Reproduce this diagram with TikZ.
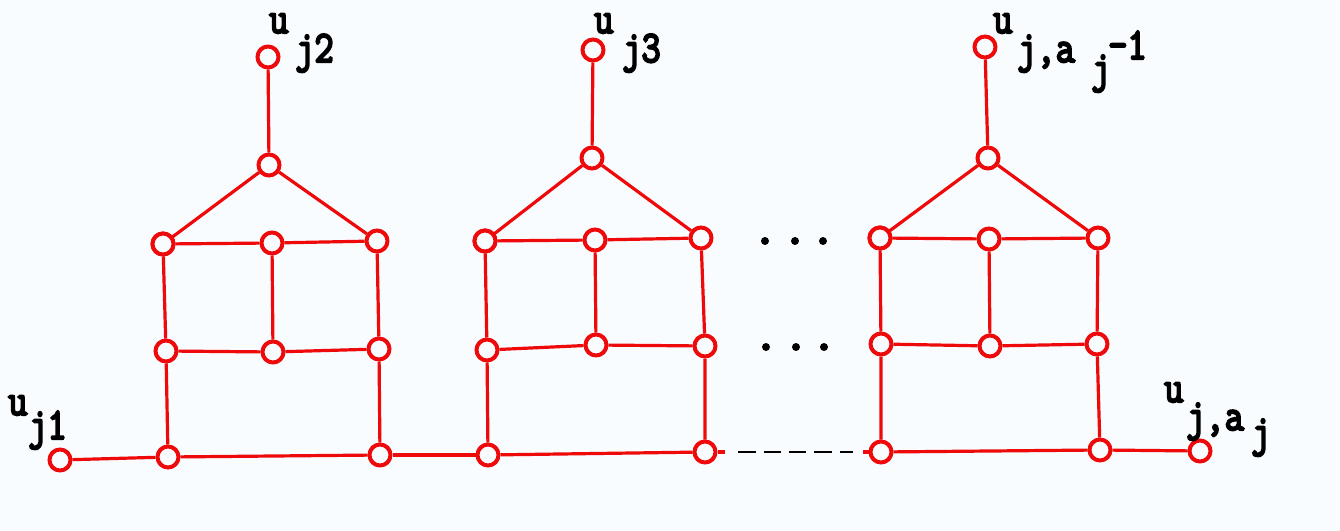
\documentclass[tikz,border=0pt]{standalone}
\usepackage{fontspec}
\newfontfamily\labfont{Latin Modern Mono}[FakeBold=5]
\usetikzlibrary{calc}
\definecolor{bg}{RGB}{249,252,254}
\definecolor{ink}{RGB}{238,10,10}
\newcommand{\lbl}[1]{\scalebox{1}[1.2]{#1}}
\begin{document}
\begin{tikzpicture}[x=0.75pt,y=-0.75pt,
  v/.style={circle,draw=ink,line width=3pt,fill=bg,minimum size=15.75pt,inner sep=0pt},
  edge/.style={draw=ink,line width=2.4pt},
  lab/.style={font=\fontsize{28}{30}\selectfont\labfont,inner sep=0pt,anchor=base west,text=black},
  dot/.style={circle,fill=black,inner sep=0pt,minimum size=6pt}]
\fill[bg] (0,0) rectangle (1340,531);
\useasboundingbox (0,0) rectangle (1340,531);
% house 1
\node[v] (t1) at (268,57) {};
\node[v] (a1) at (269,165) {};
\node[v] (p1) at (163,244) {};
\node[v] (q1) at (272,243) {};
\node[v] (r1) at (377,241) {};
\node[v] (s1) at (166,351) {};
\node[v] (m1) at (273,352) {};
\node[v] (w1) at (379,349) {};
\node[v] (b1) at (168,457) {};
\node[v] (c1) at (380,455) {};
% house 2
\node[v] (t2) at (593,50) {};
\node[v] (a2) at (592,158) {};
\node[v] (p2) at (485,241) {};
\node[v] (q2) at (595,240) {};
\node[v] (r2) at (701,238) {};
\node[v] (s2) at (487,350) {};
\node[v] (m2) at (596,345) {};
\node[v] (w2) at (705,346) {};
\node[v] (b2) at (488,455) {};
\node[v] (c2) at (705,452) {};
% house 3
\node[v] (t3) at (985,47) {};
\node[v] (a3) at (988,158) {};
\node[v] (p3) at (880,238) {};
\node[v] (q3) at (989,239) {};
\node[v] (r3) at (1098,238) {};
\node[v] (s3) at (881,344) {};
\node[v] (m3) at (990,346) {};
\node[v] (w3) at (1097,344) {};
\node[v] (b3) at (881,452) {};
\node[v] (c3) at (1100,450) {};
% ends
\node[v] (e0) at (60,460) {};
\node[v] (e1) at (1200,451) {};
\foreach \i in {1,2,3}{
  \draw[edge] (t\i) -- (a\i);
  \draw[edge] (a\i) -- (p\i.center);
  \draw[edge] (a\i) -- (r\i);
  \draw[edge] (p\i) -- (q\i) -- (r\i);
  \draw[edge] (s\i) -- (m\i) -- (w\i);
  \draw[edge] (p\i) -- (s\i) -- (b\i);
  \draw[edge] (q\i) -- (m\i);
  \draw[edge] (r\i) -- (w\i) -- (c\i);
  \draw[edge] (b\i) -- (c\i);
}
\node[v] at (p1) {};
\node[v] at (p2) {};
\node[v] at (p3) {};
\draw[edge] (e0) -- (b1);
\draw[edge] (c1) -- (b2);
\draw[edge] (c3) -- (e1);
\coordinate (d0) at ($(c2)!0.115!(b3)$);
\coordinate (d1) at ($(c2)!0.9!(b3)$);
\draw[edge] (c2) -- (d0);
\draw[edge] (d1) -- (b3);
\draw[black,line width=2.2pt,dash pattern=on 13pt off 6pt,shorten <=15.5pt,shorten >=12pt] (c2) -- (b3);
% dots
\foreach \x [count=\k] in {765,795,823}{
  \node[dot] (da\k) at (\x,241) {};
  \node[dot] (db\k) at (\x+1,347) {};
}
% labels
\node[lab] (l1u) at (8,415) {\lbl{u}};
\node[lab] (l1s) at (28,439) {\lbl{j1}};
\node[lab] (l2u) at (269,33) {\lbl{u}};
\node[lab] (l2s) at (295,62) {\lbl{j2}};
\node[lab] (l3u) at (594,33) {\lbl{u}};
\node[lab] (l3s) at (622,62) {\lbl{j3}};
\node[lab] (l4u) at (993,33) {\lbl{u}};
\node[lab] (l4s) at (1017,62) {\lbl{j,a}};
\node[lab] (l4j) at (1091,82) {\lbl{j}};
\node[lab] (l4m) at (1108,59) {\lbl{-1}};
\node[lab] (l5u) at (1164,402) {\lbl{u}};
\node[lab] (l5s) at (1186,430) {\lbl{j,a}};
\node[lab] (l5j) at (1251,446) {\lbl{j}};
\end{tikzpicture}
\end{document}
